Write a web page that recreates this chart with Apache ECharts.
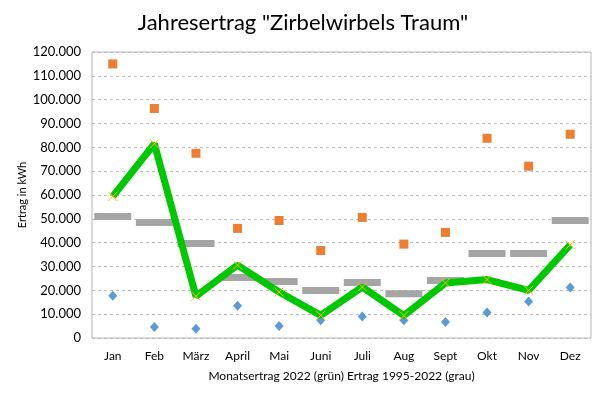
<!DOCTYPE html>
<html><head><meta charset="utf-8">
<script src="https://cdn.jsdelivr.net/npm/echarts@6/dist/echarts.min.js"></script>
<style>html,body{margin:0;padding:0;background:#fff}#c{width:606px;height:399px}</style>
</head><body><div id="c"></div>
<script>
const months = ["Jan","Feb","März","April","Mai","Juni","Juli","Aug","Sept","Okt","Nov","Dez"];
const ertrag2022 = [59400,81500,17500,30600,19300,9500,21400,9400,23100,24500,20000,39100];
const mittel = [51000,48500,39700,25400,23700,19900,23300,18600,24100,35500,35500,49300];
const maxWerte = [115000,96300,77500,46000,49300,36700,50600,39400,44300,83800,72100,85500];
const minWerte = [17700,4600,3900,13500,5000,7400,9000,7400,6700,10700,15300,21200];
const yTicks = {min:0, max:120000, step:10000};

const FONT = "Lato";
function fmt(v){ return String(v).replace(/\B(?=(\d{3})+(?!\d))/g, "."); }

const chart = echarts.init(document.getElementById('c'), null, {renderer:'canvas'});
chart.setOption({
  animation:false,
  backgroundColor:'#fff',
  title:{text:'Jahresertrag "Zirbelwirbels Traum"', left:'center', top:7,
    textStyle:{fontFamily:FONT, fontSize:22, fontWeight:'normal', color:'#000'}},
  grid:{left:92, right:15, top:52, bottom:61, show:true, borderColor:'#b4b4b4', borderWidth:1},
  xAxis:{type:'category', data:months, boundaryGap:true,
    axisLine:{show:false}, axisTick:{show:false},
    axisLabel:{fontFamily:FONT, fontSize:12, color:'#000', margin:12, interval:0},
    name:'Monatsertrag 2022 (grün) Ertrag 1995-2022 (grau)', nameLocation:'middle', nameGap:32,
    nameTextStyle:{fontFamily:FONT, fontSize:12, color:'#000'}},
  yAxis:{type:'value', min:yTicks.min, max:yTicks.max, interval:yTicks.step,
    axisLine:{show:false}, axisTick:{show:false},
    axisLabel:{fontFamily:FONT, fontSize:13, color:'#000', margin:11, formatter:fmt},
    splitLine:{show:true, lineStyle:{color:'#bdbdbd', type:[3,3], width:1}},
    name:'Ertrag in kWh', nameLocation:'middle', nameGap:64, nameRotate:90, nameMoveOverlap:false,
    nameTextStyle:{fontFamily:FONT, fontSize:11, color:'#000'}},
  series:[
    {type:'scatter', data:mittel, symbol:'rect', symbolSize:[37,7], itemStyle:{color:'#a5a5a5', opacity:1}, z:2},
    {type:'scatter', data:maxWerte, symbol:'rect', symbolSize:9, itemStyle:{color:'#ed7d31', opacity:1}, z:3},
    {type:'scatter', data:minWerte, symbol:'diamond', symbolSize:[9,10], itemStyle:{color:'#5b9bd5', opacity:1}, z:3},
    {type:'line', data:ertrag2022, lineStyle:{color:'#00c800', width:7}, z:4,
      symbol:'path://M0 0L10 10M10 0L0 10', symbolSize:9, showSymbol:true,
      itemStyle:{color:'none', borderColor:'#ffc000', borderWidth:1}}
  ]
});
</script></body></html>
